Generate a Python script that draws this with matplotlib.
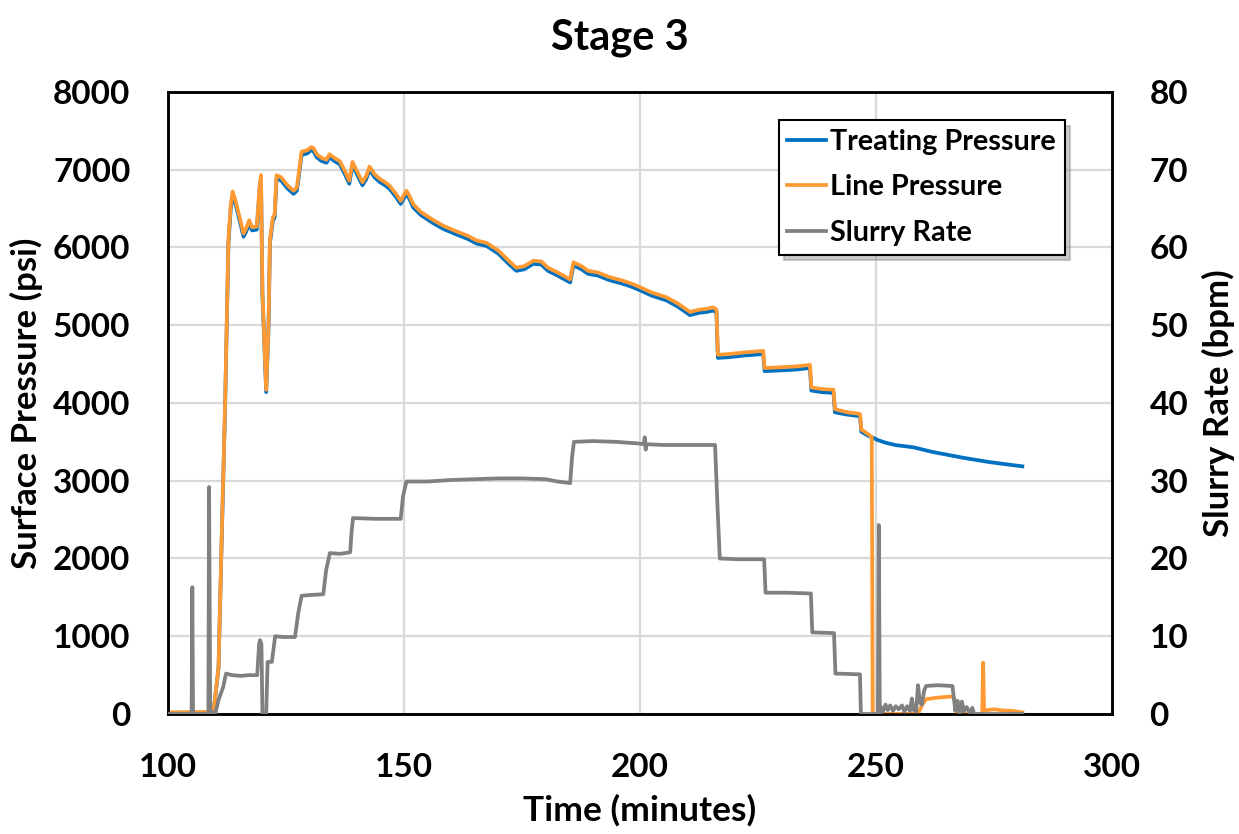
import matplotlib
matplotlib.use("Agg")
import matplotlib.pyplot as plt
from matplotlib.lines import Line2D

plt.rcParams["font.family"] = ["Lato", "DejaVu Sans"]
plt.rcParams["font.weight"] = "bold"

# ---- Line pressure (psi) ----
line_t = [100, 109.3, 109.7, 110.7, 111.4, 112.1, 112.8, 113.3, 113.7, 114.3, 115.2, 116.0,
          116.6, 117.2, 117.8, 118.8, 119.4, 119.7, 120.0, 120.8, 121.3, 121.6, 122.2, 122.6,
          123.0, 124.0, 125.3, 126.6, 127.3, 128.3, 129.5, 130.3, 130.8, 131.5, 132.6, 133.6,
          134.2, 135.3, 136.4, 137.5, 138.4, 139.1, 140.2, 141.2, 142.0, 142.7, 143.8, 144.9,
          146.0, 147.0, 148.3, 149.3, 150.5, 151.2, 151.9, 153.5, 156.0, 158.3, 161.0, 163.5,
          165.4, 167.5, 170.0, 172.0, 173.8, 175.5, 177.4, 179.1, 180.5, 182.5, 185.2, 185.9,
          187.6, 189.0, 191.0, 193.5, 196.0, 198.0, 200.0, 202.5, 205.6, 208.0, 210.6, 212.5,
          214.0, 215.5, 216.2, 216.5, 219.0, 222.0, 226.1, 226.4, 230.0, 233.0, 236.0, 236.3,
          238.5, 241.0, 241.3, 244.0, 246.6, 246.9, 248.3, 249.1, 249.3, 252.0, 255.0, 258.9,
          259.8, 260.6, 263.0, 266.0, 266.6, 267.1, 270.0, 272.5, 272.7, 272.9, 273.5, 275.0,
          277.0, 279.0, 281.0]
line_psi = [20, 25, 60, 600, 2330, 4000, 6100, 6550, 6720, 6600, 6380, 6180,
            6250, 6350, 6260, 6270, 6780, 6930, 5450, 4170, 5030, 6100, 6380, 6430,
            6930, 6900, 6800, 6730, 6770, 7232, 7250, 7290, 7280, 7200, 7150, 7130,
            7200, 7150, 7110, 6980, 6860, 7100, 6960, 6840, 6920, 7040, 6940, 6880,
            6840, 6790, 6690, 6600, 6730, 6660, 6560, 6460, 6360, 6280, 6210, 6150,
            6090, 6060, 5960, 5840, 5740, 5760, 5830, 5820, 5740, 5680, 5590, 5810,
            5760, 5700, 5680, 5620, 5580, 5540, 5490, 5420, 5360, 5280, 5170, 5200,
            5210, 5230, 5200, 4620, 4630, 4650, 4670, 4450, 4460, 4470, 4490, 4200,
            4180, 4170, 3920, 3880, 3860, 3660, 3600, 3560, 0, 0, 0, 0,
            120, 190, 210, 225, 200, 0, 0, 0, 660, 40, 50, 60,
            45, 40, 20]

# ---- Treating pressure (psi) ----
treat_t = [100, 109.3, 109.7, 110.7, 111.4, 112.1, 112.8, 113.3, 113.7, 114.3, 115.2, 116.0,
           116.6, 117.2, 117.8, 118.8, 119.4, 119.7, 120.0, 120.8, 121.3, 121.6, 122.2, 122.6,
           123.0, 124.0, 125.3, 126.6, 127.3, 128.3, 129.5, 130.3, 130.8, 131.5, 132.6, 133.6,
           134.2, 135.3, 136.4, 137.5, 138.4, 139.1, 140.2, 141.2, 142.0, 142.7, 143.8, 144.9,
           146.0, 147.0, 148.3, 149.3, 150.5, 151.2, 151.9, 153.5, 156.0, 158.3, 161.0, 163.5,
           165.4, 167.5, 170.0, 172.0, 173.8, 175.5, 177.4, 179.1, 180.5, 182.5, 185.2, 185.9,
           187.6, 189.0, 191.0, 193.5, 196.0, 198.0, 200.0, 202.5, 205.6, 208.0, 210.6, 212.5,
           214.0, 215.5, 216.2, 216.5, 219.0, 222.0, 226.1, 226.4, 230.0, 233.0, 236.0, 236.3,
           238.5, 241.0, 241.3, 244.0, 246.6, 246.9, 248.3, 249.1, 250.5, 252.0, 254.0, 257.9,
           262.0, 268.5, 274.0, 281.0]
treat_psi = [15, 20, 55, 590, 2300, 3960, 6050, 6500, 6680, 6560, 6340, 6140,
             6210, 6310, 6220, 6230, 6740, 6890, 5400, 4140, 4990, 6060, 6340, 6390,
             6890, 6860, 6760, 6690, 6730, 7190, 7210, 7250, 7240, 7160, 7110, 7090,
             7160, 7110, 7070, 6940, 6820, 7060, 6920, 6800, 6880, 7000, 6900, 6840,
             6800, 6750, 6650, 6560, 6690, 6620, 6520, 6420, 6320, 6240, 6170, 6110,
             6050, 6020, 5920, 5800, 5700, 5720, 5790, 5780, 5700, 5640, 5550, 5770,
             5720, 5660, 5640, 5580, 5540, 5500, 5450, 5380, 5320, 5240, 5130, 5160,
             5170, 5190, 5160, 4580, 4590, 4610, 4630, 4410, 4420, 4430, 4450, 4160,
             4140, 4130, 3880, 3850, 3830, 3630, 3580, 3560, 3520, 3490, 3460, 3430,
             3370, 3295, 3240, 3185]

# ---- Slurry rate (bpm) ----
rate_t = [100, 105.0, 105.15, 105.3, 108.55, 108.7, 108.95, 109.4, 109.6, 110.0, 110.7,
          111.7, 112.3, 113.5, 115.5, 117.0, 118.9, 119.3, 119.5, 119.8, 120.0, 120.5, 120.8,
          121.1, 122.0, 122.7, 124.5, 126.9, 127.6, 128.3, 130.0, 132.9, 133.5, 134.3, 136.5,
          138.6, 138.9, 139.2, 144.0, 149.3, 149.8, 150.5, 155.0, 160.0, 165.0, 170.0, 175.0,
          180.0, 182.5, 185.2, 185.6, 186.0, 190.0, 195.0, 199.5, 200.8, 201.0, 201.2, 201.4,
          205.0, 210.0, 215.9, 216.4, 216.9, 221.0, 226.3, 226.6, 231.0, 236.2, 236.5, 241.1,
          241.4, 246.6, 246.8, 250.4, 250.6, 250.8, 251.0, 251.5, 252.0, 252.5, 253.0, 253.6,
          254.2, 254.8, 255.5, 256.0, 256.6, 257.2, 257.6, 258.0, 258.5, 258.9, 259.3, 259.7,
          260.2, 260.6, 263.0, 266.2, 266.8, 267.3, 267.7, 268.2, 268.6, 269.2, 269.8, 270.4,
          270.8, 281.0]
rate_bpm = [0, 0, 16.3, 0, 0, 29.2, 0, 0.3, 0, 0, 1.8,
            3.5, 5.2, 5.0, 4.9, 5.0, 5.0, 9.0, 9.5, 9.0, 0, 0, 0,
            6.7, 6.7, 10.0, 9.9, 9.9, 13.0, 15.2, 15.3, 15.4, 18.5, 20.7, 20.6,
            20.8, 23.5, 25.2, 25.1, 25.1, 28.0, 29.9, 29.9, 30.1, 30.2, 30.3, 30.3,
            30.2, 29.9, 29.7, 33.0, 35.0, 35.1, 35.0, 34.8, 34.7, 35.6, 34.0, 34.7,
            34.6, 34.6, 34.6, 27.0, 20.0, 19.9, 19.9, 15.6, 15.6, 15.5, 10.5, 10.4,
            5.2, 5.1, 0, 0, 24.3, 0, 0.9, 0.3, 1.2, 0.5, 1.1, 0.4,
            1.0, 0.6, 1.1, 0.3, 1.0, 0.4, 2.0, 0.5, 0.3, 3.7, 1.5, 1.2,
            3.0, 3.6, 3.7, 3.6, 0.4, 1.7, 0.2, 1.6, 0.3, 0.9, 0.2, 0.8,
            0, 0]

x_ticks = [100, 150, 200, 250, 300]
p_ticks = [0, 1000, 2000, 3000, 4000, 5000, 6000, 7000, 8000]
r_ticks = [0, 10, 20, 30, 40, 50, 60, 70, 80]

BLUE = "#0070C0"
ORANGE = "#FF9A33"
GRAY = "#808080"
GRID = "#D9D9D9"
LW = 2.7

fig = plt.figure(figsize=(12.39, 8.34), dpi=100)
ax = fig.add_axes([0.1356, 0.1439, 0.7619, 0.7458])
ax2 = ax.twinx()

ax.plot(treat_t, treat_psi, color=BLUE, lw=LW, solid_joinstyle="round", zorder=3)
ax.plot(line_t, line_psi, color=ORANGE, lw=LW, solid_joinstyle="round", zorder=4)
ax2.plot(rate_t, rate_bpm, color=GRAY, lw=LW, solid_joinstyle="round", zorder=3)

ax.set_xlim(100, 300)
ax.set_ylim(0, 8000)
ax2.set_ylim(0, 80)
ax.set_xticks(x_ticks)
ax.set_yticks(p_ticks)
ax2.set_yticks(r_ticks)

ax.grid(True, color=GRID, lw=1.6)
ax.set_axisbelow(True)
for a in (ax, ax2):
    for s in a.spines.values():
        s.set_color("black")
        s.set_linewidth(1.8)

ax.tick_params(axis="x", length=0, pad=28, labelsize=24)
ax.tick_params(axis="y", length=0, pad=27, labelsize=24)
ax2.tick_params(axis="y", length=0, pad=27, labelsize=24)
for lbl in ax.get_xticklabels() + ax.get_yticklabels() + ax2.get_yticklabels():
    lbl.set_fontweight("bold")

ax.set_xlabel("Time (minutes)", fontsize=25.5, fontweight="bold", labelpad=9)
ax.set_ylabel("Surface Pressure (psi)", fontsize=25, fontweight="bold", labelpad=7)
ax2.set_ylabel("Slurry Rate (bpm)", fontsize=25, fontweight="bold", labelpad=10)
fig.suptitle("Stage 3", x=0.5, y=0.978, fontsize=30, fontweight="bold")

handles = [Line2D([], [], color=BLUE, lw=LW),
           Line2D([], [], color=ORANGE, lw=LW),
           Line2D([], [], color=GRAY, lw=LW)]
labels = ["Treating Pressure", "Line Pressure", "Slurry Rate"]
leg = ax2.legend(handles, labels, loc="upper right", bbox_to_anchor=(0.950, 0.955),
                 borderaxespad=0, fancybox=False, framealpha=1, edgecolor="black",
                 prop={"size": 20.7, "weight": "bold"}, handlelength=1.35,
                 handletextpad=0.15, labelspacing=0.69, borderpad=0.3,
                 shadow={"color": "0.55", "alpha": 0.45, "ox": 4, "oy": -4})
leg.get_frame().set_linewidth(1.5)

fig.savefig("out.png", dpi=100)
